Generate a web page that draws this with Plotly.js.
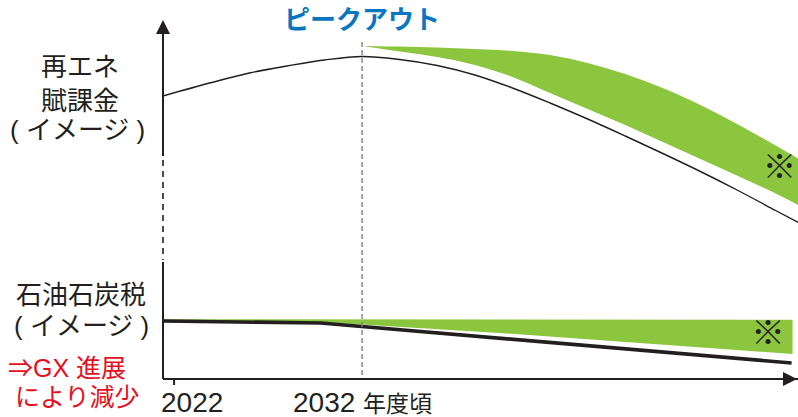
<!DOCTYPE html>
<html>
<head>
<meta charset="utf-8">
<script src="https://cdn.plot.ly/plotly-3.0.1.min.js"></script>
<style>html,body{margin:0;padding:0;background:#fff;}#chart{width:798px;height:417px;}</style>
</head>
<body>
<div id="chart"></div>
<script>
// ---- data (conceptual image) ----
const renewX = [2021.4, 2024, 2026, 2028, 2030, 2032, 2034, 2036, 2038, 2040, 2042, 2044, 2046, 2048, 2050, 2052, 2054, 2055.2];
const renewY = [282, 295.5, 305, 312, 318, 321.5, 318.5, 312.5, 303, 290, 275, 259, 242, 224.5, 206.5, 187.5, 167.5, 155.5];

const renewBandX = [2032.2, 2034, 2036, 2038, 2040, 2042, 2044, 2046, 2048, 2050, 2052, 2054, 2055.2];
const renewBandHigh = [332, 331.5, 330.5, 329, 327, 323, 315, 304, 290, 273, 253.5, 232.5, 219.5];
const renewBandLow  = [331.5, 326.5, 321, 313, 301, 285, 269, 253, 236, 219, 202, 184.5, 173];

const oilX = [2021.4, 2029.8, 2054.85];
const oilY = [57, 55, 15];

const oilBandX = [2021.4, 2029.8, 2039.3, 2044.5, 2054.9];
const oilBandHigh = [58.7, 58.7, 58.5, 58.3, 58.2];
const oilBandLow  = [57.5, 56, 45, 38, 24];

const noteX = [2054.2, 2053.6];
const noteY = [208, 42];
const noteText = ['※', '※'];

const tickYears = [2022, 2032];
const tickLabels = ['2022', '2032 <span style="font-size:23px">年度頃</span>'];
const peakLabel = 'ピークアウト';
const renewLabel = ['再エネ', '賦課金', '( イメージ )'];
const oilLabel = ['石油石炭税', '( イメージ )'];
const gxLabel = ['⇒GX 進展', 'により減少'];

// ---- styling ----
const GREEN = '#8cc63f';
const INK = '#231f20';
const JP = 'Liberation Sans, "Noto Sans CJK JP", sans-serif';

const traces = [
  {x: renewBandX, y: renewBandLow, mode: 'lines', line: {width: 0, shape: 'spline'}, hoverinfo: 'skip', showlegend: false},
  {x: renewBandX, y: renewBandHigh, mode: 'lines', line: {width: 0, shape: 'spline'}, fill: 'tonexty', fillcolor: GREEN, hoverinfo: 'skip', showlegend: false},
  {x: oilBandX, y: oilBandLow, mode: 'lines', line: {width: 0}, hoverinfo: 'skip', showlegend: false},
  {x: oilBandX, y: oilBandHigh, mode: 'lines', line: {width: 0}, fill: 'tonexty', fillcolor: GREEN, hoverinfo: 'skip', showlegend: false},
  {x: renewX, y: renewY, mode: 'lines', line: {color: INK, width: 1.4, shape: 'spline'}, showlegend: false},
  {x: oilX, y: oilY, mode: 'lines', line: {color: INK, width: 3.6}, showlegend: false},
  {x: noteX, y: noteY, mode: 'text', text: noteText, textfont: {family: '"Noto Sans CJK JP"', size: 34, color: INK}, textposition: 'middle center', showlegend: false, cliponaxis: false}
];

const L = 163, T = 20, W = 635, H = 358;
const px = v => (v - L) / W;      // page-pixel -> paper (text placement only)
const py = v => (T + H - v) / H;

const annotations = [];
function label(text, cx, cy, opts) {
  annotations.push(Object.assign({text: text, xref: 'paper', yref: 'paper', x: px(cx), y: py(cy), xanchor: 'center', yanchor: 'middle', showarrow: false, font: {family: JP, size: 26, color: INK}}, opts || {}));
}
label(renewLabel[0], 80, 67);
label(renewLabel[1], 80, 101);
label(renewLabel[2], 77, 130);
label(oilLabel[0], 81, 295);
label(oilLabel[1], 82, 326);
label(gxLabel[0], 67, 368, {font: {family: JP, size: 25, color: '#e60f1e'}});
label(gxLabel[1], 77, 397, {font: {family: JP, size: 25, color: '#e60f1e'}});

// tick labels
annotations.push({text: tickLabels[0], xref: 'paper', yref: 'paper', x: px(159), y: py(402), xanchor: 'left', yanchor: 'middle', showarrow: false, font: {family: JP, size: 28, color: INK}});
annotations.push({text: tickLabels[1], xref: 'x', yref: 'paper', x: tickYears[1], y: py(402), xanchor: 'center', yanchor: 'middle', showarrow: false, font: {family: JP, size: 28, color: INK}});
// peak label
annotations.push({text: '<b>' + peakLabel + '</b>', xref: 'x', yref: 'paper', x: tickYears[1], y: py(18), xanchor: 'center', yanchor: 'middle', showarrow: false, font: {family: '"Noto Sans CJK JP", sans-serif', size: 26, color: '#0a76bf'}});

// axis arrowheads
annotations.push({text: '', xref: 'paper', yref: 'paper', x: 0, y: 1, ax: 0, ay: 40, showarrow: true, arrowhead: 2, arrowsize: 1.4, arrowwidth: 2, arrowcolor: INK, standoff: 0});
annotations.push({text: '', xref: 'paper', yref: 'paper', x: 1.002, y: py(379), ax: -40, ay: 0, showarrow: true, arrowhead: 2, arrowsize: 1.4, arrowwidth: 2, arrowcolor: INK, standoff: 0});

const shapes = [
  // y axis with dashed break
  {type: 'line', xref: 'paper', yref: 'paper', x0: 0, x1: 0, y0: py(30), y1: py(156), line: {color: INK, width: 2}},
  {type: 'line', xref: 'paper', yref: 'paper', x0: 0, x1: 0, y0: py(160), y1: py(260), line: {color: INK, width: 1.6, dash: '6px,5px'}},
  {type: 'line', xref: 'paper', yref: 'paper', x0: 0, x1: 0, y0: py(262), y1: py(379), line: {color: INK, width: 2}},
  // 2022 tick
  {type: 'line', xref: 'x', yref: 'paper', x0: tickYears[0], x1: tickYears[0], y0: py(379), y1: py(385), line: {color: INK, width: 2}},
  // peak-out dashed line
  {type: 'line', xref: 'x', yref: 'paper', x0: tickYears[1], x1: tickYears[1], y0: py(42), y1: py(376), line: {color: '#808080', width: 1.4, dash: '5px,3px'}}
];

const layout = {
  width: 798, height: 417,
  margin: {l: L, r: 0, t: T, b: 417 - T - H, pad: 0},
  paper_bgcolor: '#fff', plot_bgcolor: '#fff',
  font: {family: JP, color: INK},
  xaxis: {range: [2021.41, 2055.19], showgrid: false, zeroline: false, showline: true, linecolor: INK, linewidth: 2, showticklabels: false, ticks: '', fixedrange: true},
  yaxis: {range: [0, 358], showgrid: false, zeroline: false, showline: false, showticklabels: false, ticks: '', fixedrange: true},
  annotations: annotations,
  shapes: shapes,
  showlegend: false
};

Plotly.newPlot('chart', traces, layout, {displayModeBar: false, staticPlot: true});
</script>
</body>
</html>
